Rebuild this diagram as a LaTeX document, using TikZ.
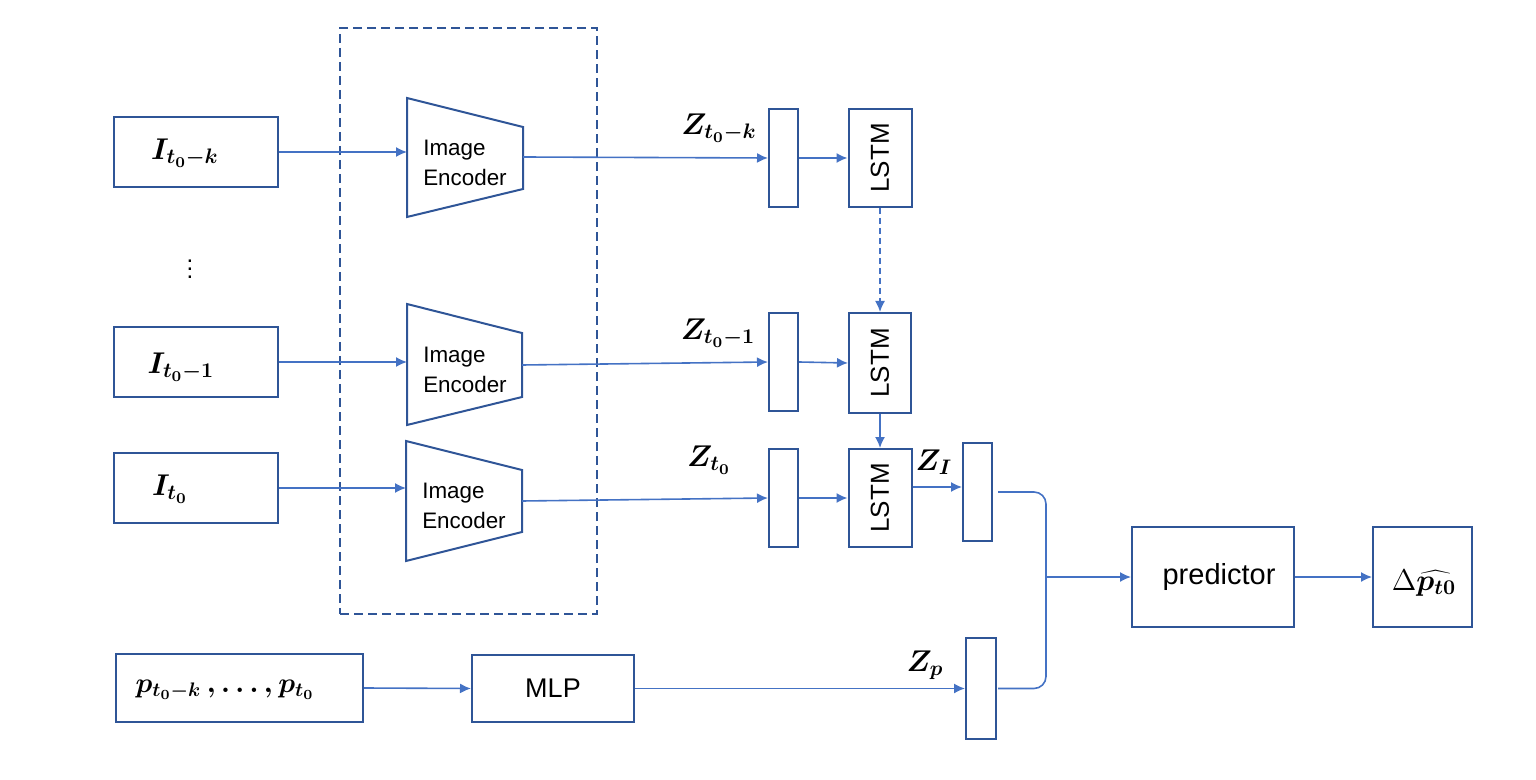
\RequirePackage{fix-cm}
\documentclass[tikz,border=0pt]{standalone}
\usepackage[no-math]{fontspec}
\setmainfont{Liberation Sans}
\usetikzlibrary{arrows.meta}
\definecolor{boxc}{HTML}{2F5597}
\definecolor{arrc}{HTML}{4472C4}
\begin{document}
\begin{tikzpicture}[x=0.5pt,y=-0.5pt,
  box/.style={draw=boxc, line width=1pt, inner sep=0pt, fill=none},
  encshape/.style={draw=boxc, line width=1pt, line join=miter},
  arr/.style={draw=arrc, line width=0.8pt, -{Latex[length=5.5pt,width=5pt]}},
  link/.style={draw=arrc, line width=0.8pt},
  grpbox/.style={draw=boxc, line width=0.8pt, dash pattern=on 4.5pt off 2.5pt, inner sep=0pt},
  enctext/.style={font=\fontsize{11.2}{15}\selectfont, align=left, inner sep=0pt},
  sanslbl/.style={inner sep=0pt},
  mathlbl/.style={inner sep=0pt, font=\fontsize{15}{18}\selectfont\boldmath},
]
\useasboundingbox (0,0) rectangle (1536,780);

% group box
\node[grpbox, minimum width=128.5pt, minimum height=293pt] (grp) at (468.5,321) {};

% input boxes
\node[box, minimum width=82pt, minimum height=35pt] (in1) at (196,152) {};
\node[box, minimum width=82pt, minimum height=35pt] (in2) at (196,362) {};
\node[box, minimum width=82pt, minimum height=35pt] (in3) at (196,488) {};
\node[mathlbl] (lin1) at (185,153) {$I_{t_0-k}$};
\node[mathlbl] (lin2) at (181,367) {$I_{t_0-1}$};
\node[mathlbl] (lin3) at (170,489) {$I_{t_0}$};
\node[inner sep=0pt, font=\fontsize{12}{14}\selectfont] (dots) at (190,263) {$\vdots$};

% encoders
\draw[encshape] (407,98) -- (523,127) -- (523,189) -- (407,217) -- cycle;
\draw[encshape] (407,304) -- (522,333) -- (522,397) -- (407,425) -- cycle;
\draw[encshape] (406,441) -- (522,470) -- (522,532) -- (406,561) -- cycle;
\node[enctext] (et1) at (465,163) {Image\\Encoder};
\node[enctext] (et2) at (465,370) {Image\\Encoder};
\node[enctext] (et3) at (464,506) {Image\\Encoder};
\coordinate (e1in) at (407,152);
\coordinate (e1out) at (523,157);
\coordinate (e2in) at (407,362);
\coordinate (e2out) at (522,365);
\coordinate (e3in) at (406,488);
\coordinate (e3out) at (522,501);

% bars and LSTMs
\node[box, minimum width=14.5pt, minimum height=49pt] (bar1) at (783.5,158) {};
\node[box, minimum width=14.5pt, minimum height=49pt] (bar2) at (783.5,362) {};
\node[box, minimum width=14.5pt, minimum height=49pt] (bar3) at (783.5,498) {};
\node[box, minimum width=31.5pt, minimum height=49pt] (lstm1) at (880,158) {};
\node[box, minimum width=31pt, minimum height=50pt] (lstm2) at (880,363) {};
\node[box, minimum width=31.5pt, minimum height=49pt] (lstm3) at (880,498) {};
\node[sanslbl, rotate=90, font=\fontsize{13}{15}\selectfont] (lt1) at (880,158) {LSTM};
\node[sanslbl, rotate=90, font=\fontsize{13}{15}\selectfont] (lt2) at (880,363) {LSTM};
\node[sanslbl, rotate=90, font=\fontsize{13}{15}\selectfont] (lt3) at (880,498) {LSTM};

\node[box, minimum width=14.5pt, minimum height=49pt] (zi) at (977.5,492) {};
\node[box, minimum width=15pt, minimum height=50.5pt] (zp) at (981,688.5) {};

% labels Z
\node[mathlbl] (lz1) at (719,128) {$Z_{t_0-k}$};
\node[mathlbl] (lz2) at (718,333) {$Z_{t_0-1}$};
\node[mathlbl] (lz3) at (709,460) {$Z_{t_0}$};
\node[mathlbl] (lzi) at (934,462) {$Z_I$};
\node[mathlbl] (lzp) at (925,665) {$Z_p$};

% predictor and output
\node[box, minimum width=81pt, minimum height=50pt] (pred) at (1213,577) {};
\node[sanslbl, font=\fontsize{14.5}{17}\selectfont] (lpred) at (1219,577) {predictor};
\node[box, minimum width=49.5pt, minimum height=50pt] (out) at (1422.5,577) {};
\node[mathlbl] (lout) at (1424,583) {$\mbox{\unboldmath$\Delta$}\widehat{p_{t0}}$};

% bottom row
\node[box, minimum width=123.5pt, minimum height=34pt] (pbox) at (239.5,688) {};
\node[mathlbl, font=\fontsize{14}{17}\selectfont\boldmath] (lp) at (225,690) {$p_{t_0-k}\,,\ldots,p_{t_0}$};
\node[box, minimum width=81pt, minimum height=33.5pt] (mlp) at (553,688.5) {};
\node[sanslbl, font=\fontsize{13.5}{16}\selectfont] (lmlp) at (553,688) {MLP};

% connectors
\draw[arr] (in1.east) -- (e1in);
\draw[arr] (in2.east) -- (e2in);
\draw[arr] (in3.east) -- (e3in);
\draw[arr] (e1out) -- (bar1.west);
\draw[arr] (e2out) -- (bar2.west);
\draw[arr] (e3out) -- (bar3.west);
\draw[arr] (bar1.east) -- (lstm1.west);
\draw[arr] (bar2.east) -- (lstm2.west);
\draw[arr] (bar3.east) -- (lstm3.west);
\draw[arr, dash pattern=on 3pt off 2pt] (lstm1.south) -- (lstm2.north);
\draw[arr] (lstm2.south) -- (lstm3.north);
\draw[arr] (lstm3.east |- 0,487) -- (zi.west |- 0,487);
\draw[arr] (pbox.east) -- (mlp.west);
\draw[arr] (mlp.east) -- (zp.west);
\coordinate (mj) at (1046,577);
\draw[link, rounded corners=6pt] ([xshift=2.5pt]zi.east) -| (mj) |- ([xshift=0.5pt]zp.east);
\draw[arr] (mj) -- (pred.west);
\draw[arr] (pred.east) -- (out.west);
\end{tikzpicture}
\end{document}
